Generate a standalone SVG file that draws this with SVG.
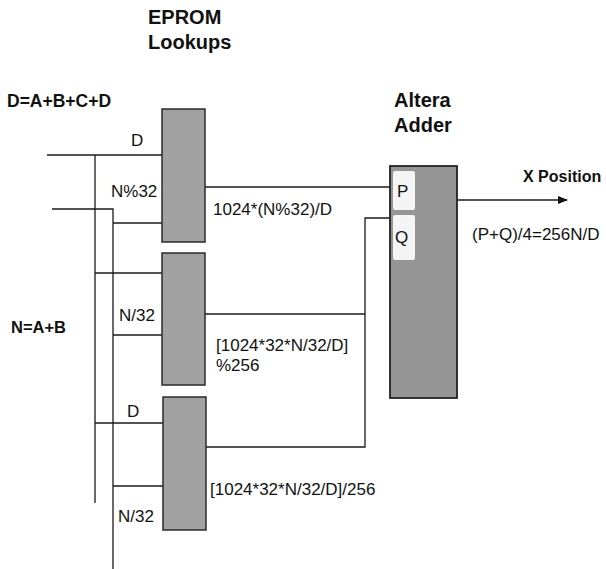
<svg xmlns="http://www.w3.org/2000/svg" width="606" height="569" viewBox="0 0 606 569">
<defs>
<style>
.t{font-family:"Liberation Sans",Arial,sans-serif;font-size:17px;fill:#111}
.b{font-family:"Liberation Sans",Arial,sans-serif;font-weight:bold;fill:#111}
.box{fill:#a2a2a2;stroke:#2a2a2a;stroke-width:1.5}
.add{fill:#959595;stroke:#222;stroke-width:1.8}
.sub{fill:#f4f4f4;stroke:none}
.w{fill:none;stroke:#1a1a1a;stroke-width:1.3}
</style>
<marker id="arr" markerWidth="10" markerHeight="8" refX="9" refY="4" orient="auto" markerUnits="userSpaceOnUse">
<path d="M0,0 L10,4 L0,8 Z" fill="#111"/>
</marker>
</defs>
<rect width="606" height="569" fill="#fff"/>

<g id="titles">
<text class="b" x="148" y="24" font-size="20">EPROM</text>
<text class="b" x="148" y="49" font-size="20">Lookups</text>
<text class="b" x="7" y="107" font-size="17.5">D=A+B+C+D</text>
<text class="b" x="11" y="333" font-size="16.5">N=A+B</text>
<text class="b" x="394" y="107" font-size="20">Altera</text>
<text class="b" x="394" y="132" font-size="20">Adder</text>
</g>

<g id="connectors">
<polyline class="w" points="47,155 162,155"/>
<polyline class="w" points="95,155 95,503"/>
<polyline class="w" points="52,209 113,209 113,569"/>
<polyline class="w" points="113,223 162,223"/>
<polyline class="w" points="95,273 162,273"/>
<polyline class="w" points="113,335 162,335"/>
<polyline class="w" points="95,423 163,423"/>
<polyline class="w" points="113,486 163,486"/>
<polyline class="w" points="205,187 390,187"/>
<polyline class="w" points="205,314 365,314"/>
<polyline class="w" points="206,447 365,447 365,218 390,218"/>
<line class="w" x1="457" y1="200" x2="567" y2="200" marker-end="url(#arr)"/>
</g>

<g id="eprom1">
<rect class="box" x="162" y="109" width="43" height="133"/>
<text class="t" x="131" y="146">D</text>
<text class="t" x="111" y="197">N%32</text>
<text class="t" x="213" y="215">1024*(N%32)/D</text>
</g>

<g id="eprom2">
<rect class="box" x="162" y="253" width="43" height="132"/>
<text class="t" x="119" y="321">N/32</text>
<text class="t" x="216" y="351">[1024*32*N/32/D]</text>
<text class="t" x="216" y="371">%256</text>
</g>

<g id="eprom3">
<rect class="box" x="163" y="397" width="43" height="133"/>
<text class="t" x="127" y="417">D</text>
<text class="t" x="118" y="522">N/32</text>
<text class="t" x="210" y="495">[1024*32*N/32/D]/256</text>
</g>

<g id="adder">
<rect class="add" x="390" y="166" width="67" height="232"/>
<rect class="sub" x="393" y="171" width="22" height="39" rx="2"/>
<rect class="sub" x="393" y="215" width="22" height="45" rx="2"/>
<text class="t" x="397" y="197" font-size="20">P</text>
<text class="t" x="395" y="243" font-size="20">Q</text>
</g>

<g id="output">
<text class="b" x="523" y="182" font-size="16">X Position</text>
<text class="t" x="472" y="240">(P+Q)/4=256N/D</text>
</g>
</svg>
